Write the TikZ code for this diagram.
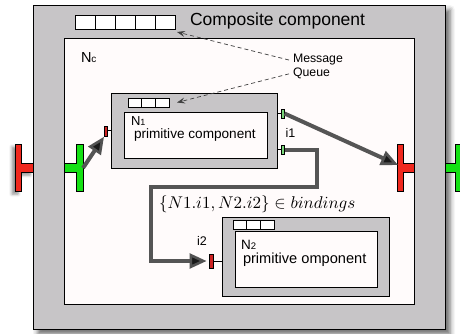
\documentclass[tikz,border=0pt]{standalone}
\usepackage{fontspec}
\setmainfont{Liberation Sans}
\usetikzlibrary{arrows.meta,shadows.blur}
\definecolor{cgray}{RGB}{199,197,199}
\definecolor{cwhite}{RGB}{255,251,251}
\definecolor{bigred}{RGB}{240,40,30}
\definecolor{biggreen}{RGB}{20,225,20}
\definecolor{smallred}{RGB}{205,35,35}
\definecolor{smallgreen}{RGB}{120,215,120}
\definecolor{cwire}{RGB}{85,85,85}
\newcommand\myfs[1]{\fontsize{#1}{#1}\selectfont}
\begin{document}
\begin{tikzpicture}[x=1pt,y=-1pt,
  box/.style={draw=black,line width=0.8pt,inner sep=0pt,outer sep=0pt},
  graybox/.style={box,fill=cgray},
  whitebox/.style={box,fill=cwhite},
  cell/.style={draw=black,line width=0.7pt,fill=white,inner sep=0pt,outer sep=0pt},
  txt/.style={inner sep=0pt,outer sep=0pt,anchor=base west},
  bigport/.style={draw=black,line width=0.8pt,line join=miter},
  smallbar/.style={draw=black,line width=0.5pt,inner sep=0pt,outer sep=0pt,minimum width=3pt},
  wire/.style={draw=cwire,line width=4pt,line join=miter,
    -{Triangle[length=17pt,width=15pt,line width=2.6pt,color=black!68,fill=black!90]}},
  msgarrow/.style={draw=black!75,line width=0.7pt,dashed,dash pattern=on 4pt off 3pt,
    -{Stealth[length=8pt,width=6pt,inset=3pt]}}]
\useasboundingbox (0,0) rectangle (460,334);

% outer composite component
\node[graybox,minimum width=412pt,minimum height=324pt,
  blur shadow={shadow xshift=5pt,shadow yshift=-5pt,shadow blur radius=5pt,shadow opacity=60}]
  (outer) at (239,167) {};
\node[whitebox,minimum width=350pt,minimum height=266pt] (nc) at (239,171) {};

% top message queue
\foreach \i/\x in {1/85,2/105,3/125,4/145,5/165}
  \node[cell,minimum width=20pt,minimum height=14pt] (tq\i) at (\x,22) {};
\node[txt] (title) at (190,26) {\myfs{17.5}Composite component};
\node[txt] (nclabel) at (81,62.3) {\myfs{14.5}N\myfs{10}c};
\node[txt] (msg) at (293,63) {\myfs{12.3}Message};
\node[txt] (que) at (293,77) {\myfs{12.3}Queue};

% N1
\node[graybox,minimum width=166pt,minimum height=75pt] (n1) at (194,130.5) {};
\node[whitebox,minimum width=143pt,minimum height=46pt] (n1in) at (195.5,135) {};
\foreach \i/\x in {1/134.83,2/148.5,3/162.17}
  \node[cell,minimum width=13.67pt,minimum height=9pt] (n1q\i) at (\x,102.5) {};
\node[txt] (n1name) at (131,125) {\myfs{13}N\myfs{9}1};
\node[txt] (n1text) at (134,138) {\myfs{13.6}primitive component};
\node[txt] (i1) at (285.5,137) {\myfs{12.5}i1};

% N2
\node[graybox,minimum width=167pt,minimum height=79pt] (n2) at (305.5,256.5) {};
\node[whitebox,minimum width=142pt,minimum height=56pt] (n2in) at (306,259) {};
\foreach \i/\x in {1/239.83,2/253.5,3/267.17}
  \node[cell,minimum width=13.67pt,minimum height=9pt] (n2q\i) at (\x,224.5) {};
\node[txt] (n2name) at (241,249) {\myfs{13.5}N\myfs{9.5}2};
\node[txt] (n2text) at (243,263) {\myfs{14.6}primitive omponent};
\node[txt] (i2) at (197,245) {\myfs{12.5}i2};

% binding label
\node[txt] (bind) at (159,208) {\scalebox{1.7}{$\{N1.i1,N2.i2\}\in bindings$}};

% big ports
\draw[bigport,fill=bigred,blur shadow={shadow xshift=-3pt,shadow yshift=-3pt,shadow blur radius=3pt,shadow opacity=45}]
  (15,144) -- (21,144) -- (21,163) -- (33,163) -- (33,172) -- (21,172) -- (21,191) -- (15,191) -- cycle;
\draw[bigport,fill=biggreen]
  (83,144) -- (83,191) -- (76,191) -- (76,172) -- (64,172) -- (64,163) -- (76,163) -- (76,144) -- cycle;
\draw[bigport,fill=bigred]
  (397,144) -- (403,144) -- (403,163) -- (414,163) -- (414,172) -- (403,172) -- (403,191) -- (397,191) -- cycle;
\draw[bigport,fill=biggreen]
  (463,144) -- (463,191) -- (455,191) -- (455,172) -- (445,172) -- (445,163) -- (455,163) -- (455,144) -- cycle;
\coordinate (inG) at (83,168);
\coordinate (outR) at (398,165);

% small ports
\draw[black,line width=1pt] (107.5,130.5) -- (111,130.5);
\node[smallbar,fill=smallred,minimum height=10pt] (p1in) at (106,131) {};
\draw[black,line width=1pt] (277,113.5) -- (281.5,113.5);
\node[smallbar,fill=smallgreen,minimum height=9pt] (p1o1) at (283,113.5) {};
\draw[black,line width=1pt] (277,149.5) -- (281.5,149.5);
\node[smallbar,fill=smallgreen,minimum height=9pt] (p1o2) at (283,149.5) {};
\draw[black,line width=1pt] (213.5,261) -- (222,261);
\node[smallbar,fill=smallred,minimum width=4pt,minimum height=14pt] (p2in) at (211.5,261) {};

% connectors
\draw[wire,shorten >=1pt] (inG) -- (p1in.south west);
\draw[wire] (p1o1.east) -- (outR);
\draw[wire,shorten >=3pt] (p1o2.east) -- (317,149.5) -- (317,187) -- (151,187) -- (151,261) -- (p2in.west);

% message queue pointers
\draw[msgarrow] ([xshift=-4pt]msg.west) -- ([shift={(2,3)}]tq5.south east);
\draw[msgarrow] ([xshift=-4pt]que.west) -- ([xshift=8pt]n1q3.east);
\end{tikzpicture}
\end{document}
